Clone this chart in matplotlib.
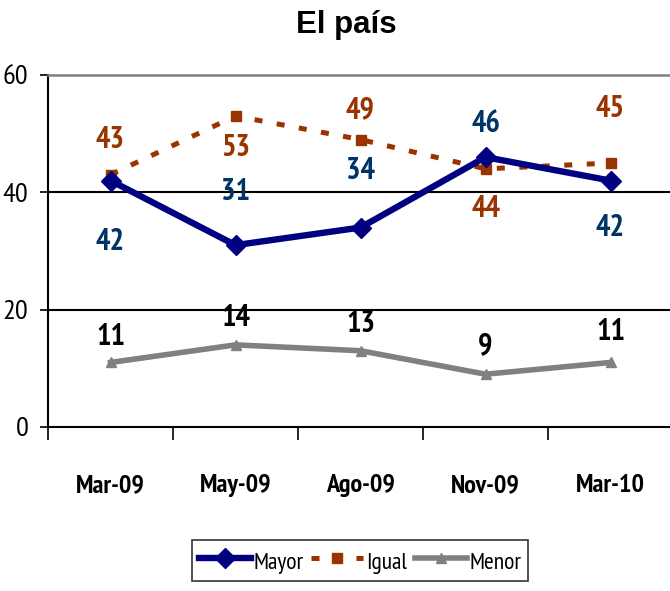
import matplotlib
matplotlib.use("Agg")
import matplotlib.pyplot as plt
from matplotlib.lines import Line2D

NARROW = ["PT Sans Narrow", "Liberation Sans", "DejaVu Sans"]
plt.rcParams["font.family"] = NARROW

categories = ["Mar-09", "May-09", "Ago-09", "Nov-09", "Mar-10"]
mayor = [42, 31, 34, 46, 42]
igual = [43, 53, 49, 44, 45]
menor = [11, 14, 13, 9, 11]
yticks = [0, 20, 40, 60]

# label offsets in points (style only)
mayor_off = [-44, 38, 41, 24, -34]
igual_off = [25, -23, 21, -29, 39]
menor_off = [18, 19, 19, 20, 22]

MAYOR_C, IGUAL_C, MENOR_C = "#000080", "#993300", "#808080"
mayor_style = dict(color=MAYOR_C, lw=4.6, marker="D", ms=10)
igual_style = dict(color=IGUAL_C, lw=3.6, ls=(0, (1.6, 2.9)), marker="s", ms=7)
menor_style = dict(color=MENOR_C, lw=4.0, marker="^", ms=7)

fig = plt.figure(figsize=(6.7, 5.91), dpi=100)
ax = fig.add_axes([48/670, 1-427/591, 625/670, 352/591])

x = list(range(len(categories)))
ax.plot(x, mayor, zorder=4, **mayor_style)
ax.plot(x, igual, zorder=3, **igual_style)
ax.plot(x, menor, zorder=3, **menor_style)

lab_kw = dict(textcoords="offset points", ha="center", va="center",
              fontsize=22, fontweight="bold")
for xi, v, o in zip(x, mayor, mayor_off):
    ax.annotate(str(v), (xi, v), xytext=(0, o), color="#003366", **lab_kw)
for xi, v, o in zip(x, igual, igual_off):
    ax.annotate(str(v), (xi, v), xytext=(0, o), color="#993300", **lab_kw)
for xi, v, o in zip(x, menor, menor_off):
    ax.annotate(str(v), (xi, v), xytext=(0, o), color="black", **lab_kw)

ax.set_xlim(-0.5, len(categories) - 0.5)
ax.set_ylim(0, 60)
ax.set_yticks(yticks)
ax.set_yticklabels([str(t) for t in yticks], fontsize=20.5)
for t in [20, 40]:
    ax.axhline(t, color="black", lw=1.5, zorder=1)

ax.set_xticks(x)
ax.set_xticklabels(categories, fontsize=19, fontweight="bold")
ax.set_xticks([i - 0.5 for i in range(len(categories) + 1)], minor=True)
ax.tick_params(axis="x", which="major", length=0, pad=34)
ax.tick_params(axis="x", which="minor", length=9, width=1.2, direction="out")
ax.tick_params(axis="y", length=6, width=1.2, direction="out", pad=8)

ax.spines["right"].set_visible(False)
ax.spines["top"].set_color("#808080")
ax.spines["top"].set_linewidth(1.8)
ax.spines["left"].set_linewidth(1.5)
ax.spines["bottom"].set_linewidth(1.5)

fig.text(346/670, 1-25/591, "El país", ha="center", va="center",
         fontsize=22.5, fontweight="bold", family=["Liberation Sans", "DejaVu Sans"])

handles = [
    Line2D([], [], **mayor_style),
    Line2D([], [], **igual_style),
    Line2D([], [], **menor_style),
]
leg = fig.legend(handles, ["Mayor", "Igual", "Menor"], loc="upper center",
                 bbox_to_anchor=(360/670, 1-540/591), ncol=3, frameon=True,
                 fancybox=False, edgecolor="black", handlelength=2.2,
                 handleheight=1.4, handletextpad=0.1, columnspacing=0.35,
                 borderpad=0.3, borderaxespad=0, prop={"size": 17})
leg.get_frame().set_linewidth(1.2)

fig.savefig("out.png", dpi=100)
